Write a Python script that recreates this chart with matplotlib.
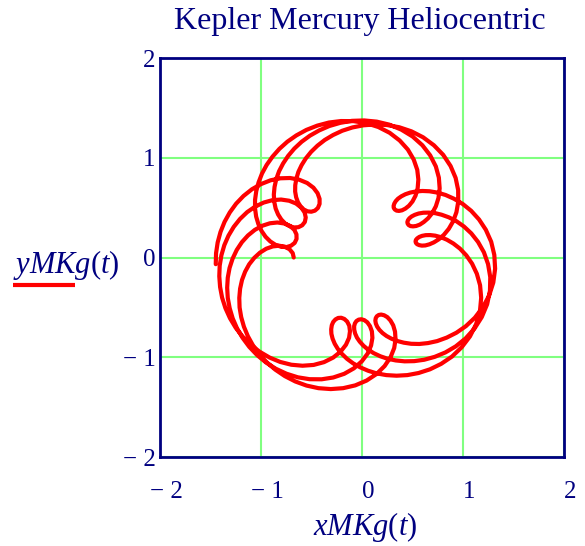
import matplotlib
matplotlib.use("Agg")
import matplotlib.pyplot as plt
from matplotlib.transforms import ScaledTranslation

plt.rcParams['mathtext.fontset'] = 'custom'
plt.rcParams['mathtext.rm'] = 'Liberation Serif'
plt.rcParams['mathtext.it'] = 'Liberation Serif:italic'

title = "Kepler Mercury Heliocentric"
xlabel = r"$xMKg(t)$"
ylabel = r"$yMKg(t)$"
ticks = [-2, -1, 0, 1, 2]
tick_labels = ["\u2212 2", "\u2212 1", "0", "1", "2"]

# traced path of the curve, in plot units, in drawing order
x_path = [
    -0.676, -0.686, -0.717, -0.763, -0.820, -0.884, -0.948, -1.010, -1.067, -1.117,
    -1.157, -1.188, -1.207, -1.215, -1.212, -1.196, -1.169, -1.130, -1.079, -1.017,
    -0.943, -0.859, -0.764, -0.660, -0.549, -0.431, -0.309, -0.187, -0.067, 0.045,
    0.144, 0.224, 0.283, 0.319, 0.332, 0.327, 0.309, 0.282, 0.251, 0.219,
    0.190, 0.166, 0.147, 0.136, 0.132, 0.137, 0.150, 0.172, 0.203, 0.243,
    0.292, 0.349, 0.414, 0.487, 0.567, 0.653, 0.744, 0.839, 0.935, 1.029,
    1.117, 1.195, 1.258, 1.300, 1.318, 1.310, 1.279, 1.226, 1.159, 1.081,
    0.997, 0.911, 0.827, 0.745, 0.668, 0.598, 0.534, 0.478, 0.429, 0.389,
    0.357, 0.334, 0.320, 0.313, 0.314, 0.325, 0.342, 0.366, 0.396, 0.429,
    0.465, 0.500, 0.530, 0.551, 0.558, 0.547, 0.512, 0.454, 0.373, 0.274,
    0.162, 0.041, -0.084, -0.208, -0.328, -0.443, -0.551, -0.650, -0.739, -0.818,
    -0.886, -0.944, -0.990, -1.024, -1.047, -1.059, -1.059, -1.048, -1.026, -0.995,
    -0.955, -0.908, -0.856, -0.802, -0.749, -0.703, -0.667, -0.648, -0.649, -0.670,
    -0.712, -0.769, -0.838, -0.912, -0.988, -1.061, -1.129, -1.189, -1.240, -1.281,
    -1.311, -1.329, -1.335, -1.329, -1.310, -1.280, -1.237, -1.182, -1.116, -1.039,
    -0.951, -0.854, -0.748, -0.636, -0.519, -0.400, -0.285, -0.176, -0.080, -0.002,
    0.056, 0.090, 0.103, 0.098, 0.079, 0.053, 0.023, -0.007, -0.033, -0.055,
    -0.070, -0.078, -0.077, -0.068, -0.050, -0.022, 0.015, 0.061, 0.116, 0.181,
    0.253, 0.334, 0.422, 0.517, 0.616, 0.720, 0.825, 0.928, 1.026, 1.114,
    1.186, 1.239, 1.267, 1.270, 1.248, 1.207, 1.149, 1.082, 1.009, 0.933,
    0.859, 0.788, 0.722, 0.661, 0.608, 0.561, 0.523, 0.492, 0.469, 0.455,
    0.449, 0.452, 0.462, 0.480, 0.505, 0.536, 0.573, 0.612, 0.654, 0.695,
    0.731, 0.757, 0.769, 0.761, 0.731, 0.675, 0.598, 0.501, 0.389, 0.270,
    0.146, 0.022, -0.099, -0.215, -0.324, -0.424, -0.516, -0.598, -0.670, -0.731,
    -0.781, -0.821, -0.849, -0.866, -0.873, -0.869, -0.855, -0.831, -0.799, -0.761,
    -0.717, -0.672, -0.629, -0.592, -0.566, -0.557, -0.568, -0.601, -0.653, -0.721,
    -0.801, -0.886, -0.973, -1.058, -1.137, -1.208, -1.270, -1.322, -1.363, -1.392,
    -1.409, -1.413, -1.405, -1.385, -1.352, -1.307, -1.250, -1.181, -1.102, -1.013,
    -0.915, -0.810, -0.700, -0.589, -0.479, -0.376, -0.285, -0.212, -0.159, -0.128,
    -0.119, -0.126, -0.147, -0.175, -0.206, -0.236, -0.263, -0.285, -0.299, -0.305,
    -0.303, -0.291, -0.270, -0.239, -0.198, -0.148, -0.088, -0.018, 0.060, 0.146,
    0.241, 0.342, 0.449, 0.560, 0.673, 0.784, 0.891, 0.987, 1.069, 1.130,
    1.168, 1.180, 1.169, 1.137, 1.090, 1.033, 0.970, 0.905, 0.841, 0.780,
    0.725, 0.674, 0.631, 0.595, 0.567, 0.547, 0.534, 0.530, 0.534, 0.546,
    0.566, 0.593, 0.627, 0.667, 0.712, 0.761, 0.811, 0.859, 0.902, 0.935,
    0.953, 0.952, 0.927, 0.877, 0.804, 0.712, 0.605, 0.489, 0.368, 0.247,
    0.128, 0.013, -0.094, -0.195, -0.286, -0.369, -0.441, -0.504, -0.556, -0.598,
    -0.630, -0.650, -0.661, -0.662, -0.652, -0.634, -0.608, -0.576, -0.540, -0.502,
    -0.466, -0.437, -0.420, -0.420, -0.440, -0.481, -0.543, -0.622, -0.712, -0.808,
    -0.905, -1.000, -1.090, -1.173, -1.246, -1.309, -1.361, -1.401, -1.429, -1.445,
    -1.448]
y_path = [
    0.000, 0.044, 0.082, 0.108, 0.118, 0.111, 0.088, 0.049, -0.004, -0.068,
    -0.142, -0.225, -0.313, -0.405, -0.501, -0.598, -0.694, -0.789, -0.882, -0.969,
    -1.051, -1.124, -1.189, -1.243, -1.284, -1.310, -1.319, -1.310, -1.282, -1.234,
    -1.168, -1.088, -0.999, -0.907, -0.820, -0.743, -0.680, -0.632, -0.598, -0.579,
    -0.572, -0.576, -0.589, -0.608, -0.633, -0.662, -0.693, -0.725, -0.757, -0.787,
    -0.814, -0.837, -0.854, -0.865, -0.867, -0.858, -0.838, -0.803, -0.754, -0.688,
    -0.604, -0.501, -0.383, -0.251, -0.113, 0.026, 0.158, 0.278, 0.381, 0.468,
    0.537, 0.589, 0.627, 0.651, 0.664, 0.667, 0.662, 0.651, 0.634, 0.613,
    0.590, 0.565, 0.541, 0.518, 0.498, 0.481, 0.470, 0.467, 0.473, 0.490,
    0.519, 0.562, 0.620, 0.694, 0.782, 0.879, 0.982, 1.082, 1.173, 1.250,
    1.308, 1.347, 1.367, 1.368, 1.353, 1.322, 1.279, 1.224, 1.161, 1.089,
    1.011, 0.928, 0.842, 0.753, 0.665, 0.577, 0.492, 0.410, 0.335, 0.267,
    0.208, 0.161, 0.127, 0.108, 0.104, 0.118, 0.146, 0.186, 0.232, 0.277,
    0.316, 0.341, 0.351, 0.343, 0.318, 0.277, 0.221, 0.154, 0.076, -0.011,
    -0.104, -0.202, -0.303, -0.406, -0.509, -0.611, -0.711, -0.806, -0.896, -0.978,
    -1.052, -1.115, -1.165, -1.201, -1.220, -1.221, -1.203, -1.166, -1.111, -1.041,
    -0.963, -0.882, -0.806, -0.740, -0.688, -0.650, -0.628, -0.619, -0.623, -0.637,
    -0.660, -0.689, -0.724, -0.762, -0.803, -0.844, -0.885, -0.924, -0.959, -0.990,
    -1.015, -1.032, -1.041, -1.039, -1.025, -0.996, -0.952, -0.891, -0.811, -0.712,
    -0.597, -0.469, -0.333, -0.197, -0.066, 0.052, 0.156, 0.242, 0.311, 0.365,
    0.403, 0.429, 0.445, 0.450, 0.449, 0.441, 0.428, 0.412, 0.393, 0.374,
    0.355, 0.339, 0.325, 0.315, 0.312, 0.316, 0.330, 0.356, 0.393, 0.445,
    0.513, 0.596, 0.693, 0.801, 0.913, 1.024, 1.125, 1.213, 1.282, 1.332,
    1.362, 1.374, 1.370, 1.350, 1.318, 1.274, 1.221, 1.160, 1.092, 1.019,
    0.943, 0.865, 0.786, 0.707, 0.631, 0.559, 0.491, 0.432, 0.381, 0.341,
    0.314, 0.301, 0.304, 0.323, 0.356, 0.401, 0.451, 0.500, 0.541, 0.569,
    0.581, 0.575, 0.551, 0.510, 0.455, 0.386, 0.307, 0.219, 0.124, 0.023,
    -0.082, -0.188, -0.296, -0.403, -0.508, -0.609, -0.705, -0.794, -0.875, -0.945,
    -1.003, -1.047, -1.075, -1.085, -1.077, -1.049, -1.003, -0.944, -0.875, -0.805,
    -0.739, -0.684, -0.642, -0.616, -0.604, -0.606, -0.621, -0.646, -0.679, -0.720,
    -0.765, -0.814, -0.865, -0.917, -0.967, -1.016, -1.061, -1.101, -1.135, -1.162,
    -1.179, -1.185, -1.179, -1.158, -1.121, -1.066, -0.993, -0.900, -0.791, -0.668,
    -0.537, -0.404, -0.278, -0.163, -0.062, 0.021, 0.089, 0.140, 0.178, 0.204,
    0.219, 0.225, 0.224, 0.217, 0.206, 0.192, 0.177, 0.161, 0.146, 0.133,
    0.124, 0.119, 0.121, 0.132, 0.152, 0.183, 0.228, 0.287, 0.362, 0.454,
    0.560, 0.676, 0.798, 0.917, 1.029, 1.125, 1.205, 1.265, 1.306, 1.328,
    1.334, 1.325, 1.304, 1.271, 1.228, 1.178, 1.121, 1.059, 0.994, 0.926,
    0.858, 0.790, 0.724, 0.662, 0.604, 0.554, 0.512, 0.481, 0.463, 0.459,
    0.470, 0.496, 0.537, 0.588, 0.645, 0.700, 0.747, 0.780, 0.797, 0.794,
    0.774, 0.736, 0.684, 0.617, 0.540, 0.452, 0.357, 0.256, 0.151, 0.043,
    -0.067]

W, H = 585, 546
fig = plt.figure(figsize=(W / 100, H / 100), dpi=100)
ax = fig.add_axes([160 / W, 1 - 457 / H, (564 - 160) / W, (457 - 58) / H])

ax.plot(x_path, y_path, color='#ff0000', lw=3.0, solid_capstyle='round',
        solid_joinstyle='round', zorder=3)

ax.set_xlim(-2, 2)
ax.set_ylim(-2, 2)
ax.set_xticks(ticks)
ax.set_yticks(ticks)
ax.set_xticklabels(tick_labels)
ax.set_yticklabels(tick_labels)
navy = '#000080'
for s in ax.spines.values():
    s.set_color(navy)
    s.set_linewidth(2.0)
ax.tick_params(length=0, labelsize=18, labelcolor=navy)
ax.tick_params(axis='x', pad=17)
ax.tick_params(axis='y', pad=3)
for lab in ax.get_xticklabels() + ax.get_yticklabels():
    lab.set_fontfamily('Liberation Serif')
shift = ScaledTranslation(6 / 100, 0, fig.dpi_scale_trans)
for lab in ax.get_xticklabels():
    lab.set_transform(lab.get_transform() + shift)
ax.grid(True, color='#80ff80', lw=1.5, zorder=1)
ax.set_axisbelow(True)

fig.text(360 / W, 1 - 22 / H, title, ha='center', va='center', color=navy,
         fontsize=23, fontfamily='Liberation Serif')
fig.text(365 / W, 1 - 527 / H, xlabel, ha='center', va='center', color=navy, fontsize=22)
fig.text(66 / W, 1 - 265 / H, ylabel, ha='center', va='center', color=navy, fontsize=22)
fig.add_artist(plt.Line2D([13 / W, 75 / W], [1 - 285 / H, 1 - 285 / H], color='#ff0000',
                          lw=3, solid_capstyle='butt'))

fig.savefig("out.png", dpi=100)
